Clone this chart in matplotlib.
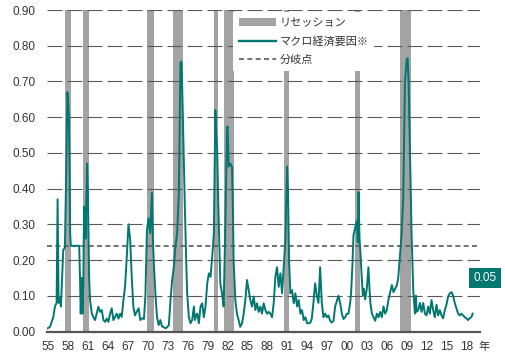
import matplotlib.pyplot as plt
from matplotlib.patches import Patch
from matplotlib.lines import Line2D

plt.rcParams['font.family'] = ['Liberation Sans', 'Noto Sans CJK JP', 'DejaVu Sans']

# data (decimal year, value)
years = [
    1954.8, 1955.25, 1955.75, 1956.0, 1956.25, 1956.4, 1956.55, 1956.75, 1956.9, 1957.05,
    1957.25, 1957.5, 1957.7, 1957.87, 1957.97, 1958.1, 1958.2, 1958.3, 1958.4, 1959.65,
    1959.78, 1959.88, 1960.03, 1960.15, 1960.28, 1960.38, 1960.5, 1960.62, 1960.72, 1960.85,
    1960.95, 1961.05, 1961.15, 1961.29, 1961.54, 1961.79, 1962.04, 1962.29, 1962.54, 1962.8,
    1963.05, 1963.3, 1963.55, 1963.8, 1964.05, 1964.3, 1964.55, 1964.8, 1965.06, 1965.31,
    1965.56, 1965.81, 1966.06, 1966.31, 1966.56, 1966.82, 1967.07, 1967.32, 1967.57, 1967.8,
    1968.05, 1968.3, 1968.6, 1968.85, 1969.1, 1969.4, 1969.62, 1969.85, 1970.1, 1970.35,
    1970.6, 1970.75, 1970.92, 1971.12, 1971.37, 1971.62, 1971.87, 1972.12, 1972.4, 1972.65,
    1972.9, 1973.15, 1973.4, 1973.65, 1973.9, 1974.15, 1974.4, 1974.66, 1974.9, 1975.05,
    1975.15, 1975.26, 1975.4, 1975.56, 1975.76, 1975.91, 1976.16, 1976.41, 1976.66, 1976.92,
    1977.07, 1977.25, 1977.42, 1977.67, 1977.92, 1978.17, 1978.42, 1978.67, 1978.93, 1979.18,
    1979.43, 1979.68, 1979.93, 1980.15, 1980.3, 1980.43, 1980.58, 1980.75, 1980.9, 1981.15,
    1981.4, 1981.65, 1981.9, 1982.0, 1982.16, 1982.41, 1982.66, 1982.8, 1982.9, 1983.16,
    1983.4, 1983.66, 1983.9, 1984.17, 1984.42, 1984.67, 1984.92, 1985.17, 1985.42, 1985.67,
    1985.93, 1986.18, 1986.43, 1986.68, 1986.93, 1987.18, 1987.43, 1987.68, 1987.94, 1988.19,
    1988.44, 1988.69, 1988.94, 1989.19, 1989.44, 1989.69, 1989.95, 1990.2, 1990.45, 1990.7,
    1990.95, 1991.1, 1991.25, 1991.45, 1991.7, 1991.96, 1992.2, 1992.46, 1992.7, 1992.96,
    1993.2, 1993.46, 1993.71, 1993.97, 1994.2, 1994.47, 1994.67, 1994.92, 1995.17, 1995.43,
    1995.68, 1995.93, 1996.18, 1996.43, 1996.68, 1996.93, 1997.18, 1997.44, 1997.69, 1997.94,
    1998.19, 1998.44, 1998.69, 1998.94, 1999.2, 1999.45, 1999.7, 1999.95, 2000.2, 2000.45,
    2000.6, 2000.8, 2000.95, 2001.2, 2001.46, 2001.6, 2001.71, 2001.86, 2002.0, 2002.2,
    2002.36, 2002.5, 2002.7, 2002.96, 2003.2, 2003.36, 2003.5, 2003.72, 2003.97, 2004.22,
    2004.47, 2004.72, 2004.97, 2005.22, 2005.47, 2005.72, 2005.97, 2006.23, 2006.48, 2006.73,
    2006.98, 2007.24, 2007.49, 2007.69, 2007.94, 2008.19, 2008.45, 2008.7, 2008.95, 2009.1,
    2009.25, 2009.45, 2009.7, 2009.95, 2010.2, 2010.35, 2010.45, 2010.7, 2010.95, 2011.2,
    2011.45, 2011.7, 2011.95, 2012.2, 2012.45, 2012.7, 2012.95, 2013.2, 2013.45, 2013.7,
    2013.95, 2014.2, 2014.45, 2014.7, 2014.95, 2015.2, 2015.45, 2015.73, 2015.95, 2016.2,
    2016.45, 2016.7, 2016.95, 2017.2, 2017.45, 2017.7, 2017.95, 2018.2, 2018.45, 2018.7,
    2018.9,
]
macro = [
    0.008, 0.013, 0.04, 0.07, 0.08, 0.37, 0.08, 0.093, 0.07, 0.14,
    0.228, 0.235, 0.45, 0.67, 0.65, 0.60, 0.46, 0.27, 0.24, 0.24,
    0.144, 0.05, 0.15, 0.05, 0.14, 0.35, 0.33, 0.26, 0.36, 0.47,
    0.40, 0.28, 0.15, 0.088, 0.051, 0.04, 0.032, 0.05, 0.069, 0.055,
    0.06, 0.032, 0.027, 0.036, 0.027, 0.05, 0.065, 0.032, 0.041, 0.05,
    0.036, 0.05, 0.041, 0.088, 0.126, 0.21, 0.30, 0.26, 0.15, 0.07,
    0.045, 0.055, 0.065, 0.032, 0.037, 0.035, 0.10, 0.284, 0.317, 0.275,
    0.389, 0.256, 0.18, 0.107, 0.04, 0.018, 0.032, 0.014, 0.012, 0.009,
    0.012, 0.018, 0.088, 0.144, 0.18, 0.24, 0.275, 0.387, 0.751, 0.756,
    0.695, 0.60, 0.48, 0.35, 0.20, 0.107, 0.04, 0.023, 0.032, 0.07,
    0.032, 0.045, 0.05, 0.023, 0.07, 0.079, 0.04, 0.07, 0.135, 0.163,
    0.153, 0.209, 0.275, 0.62, 0.55, 0.508, 0.368, 0.25, 0.135, 0.107,
    0.07, 0.29, 0.569, 0.574, 0.462, 0.47, 0.46, 0.34, 0.20, 0.088,
    0.05, 0.032, 0.013, 0.023, 0.05, 0.088, 0.144, 0.116, 0.088, 0.07,
    0.098, 0.06, 0.079, 0.055, 0.07, 0.05, 0.079, 0.06, 0.05, 0.055,
    0.05, 0.04, 0.079, 0.153, 0.18, 0.125, 0.163, 0.107, 0.18, 0.256,
    0.462, 0.387, 0.20, 0.107, 0.116, 0.079, 0.107, 0.07, 0.088, 0.05,
    0.06, 0.032, 0.04, 0.023, 0.023, 0.025, 0.036, 0.08, 0.135, 0.10,
    0.08, 0.18, 0.08, 0.04, 0.05, 0.04, 0.045, 0.03, 0.025, 0.03,
    0.07, 0.085, 0.10, 0.08, 0.05, 0.035, 0.04, 0.05, 0.05, 0.08,
    0.11, 0.19, 0.27, 0.29, 0.31, 0.25, 0.39, 0.26, 0.22, 0.15,
    0.10, 0.12, 0.09, 0.12, 0.18, 0.12, 0.08, 0.05, 0.04, 0.03,
    0.05, 0.04, 0.055, 0.04, 0.07, 0.05, 0.06, 0.09, 0.11, 0.13,
    0.11, 0.12, 0.13, 0.15, 0.21, 0.27, 0.38, 0.695, 0.76, 0.765,
    0.70, 0.51, 0.27, 0.116, 0.05, 0.10, 0.055, 0.06, 0.08, 0.055,
    0.08, 0.05, 0.045, 0.07, 0.05, 0.088, 0.06, 0.04, 0.075, 0.045,
    0.06, 0.045, 0.037, 0.06, 0.075, 0.098, 0.107, 0.11, 0.10, 0.08,
    0.065, 0.05, 0.045, 0.05, 0.045, 0.04, 0.037, 0.032, 0.037, 0.04,
    0.05,
]

# US recessions (start, end) in decimal years
rec_start = [1957.58, 1960.25, 1969.92, 1973.83, 1980.0, 1981.5, 1990.5, 2001.17, 2007.92]
rec_end = [1958.33, 1961.08, 1970.83, 1975.17, 1980.5, 1982.83, 1991.17, 2001.83, 2009.5]

threshold = 0.24
y_ticks = [i / 10 for i in range(10)]
tick_years = list(range(1955, 2019, 3))
tick_labels = [f'{y % 100:02d}' for y in tick_years]

teal = '#00786F'
grey_bar = '#A3A3A3'
grid_col = '#5A5A5A'

fig = plt.figure(figsize=(5.06, 3.58), dpi=100)
ax = fig.add_axes([0.0923, 0.074, 0.8563, 0.898])

for s, e in zip(rec_start, rec_end):
    ax.axvspan(s, e + 1 / 12, color=grey_bar, lw=0, zorder=1)

# dashed horizontal grid, drawn over the recession bars
for yv in y_ticks[1:]:
    ax.axhline(yv, color=grid_col, lw=0.8, ls=(0, (13.5, 4.5)), zorder=1.5)

ax.axhline(threshold, color=grid_col, lw=1.2, ls=(0, (3, 2)), zorder=2)
ax.plot(years, macro, color=teal, lw=1.4, zorder=3)

ax.set_xlim(1954.76, 2020.0)
ax.set_ylim(0, 0.9)
ax.set_yticks(y_ticks)
ax.set_yticklabels([f'{v:.2f}' for v in y_ticks])
ax.set_xticks(tick_years)
ax.set_xticklabels(tick_labels)
ax.tick_params(axis='both', length=0, labelsize=8.5, colors='#333333')
ax.tick_params(axis='y', pad=8)
ax.tick_params(axis='x', pad=7)

for side in ['left', 'right', 'top']:
    ax.spines[side].set_visible(False)
ax.spines['bottom'].set_color('#555555')
ax.spines['bottom'].set_linewidth(1.6)
ax.spines['bottom'].set_zorder(4)

handles = [
    Patch(facecolor=grey_bar, edgecolor='none'),
    Line2D([], [], color=teal, lw=1.7),
    Line2D([], [], color=grid_col, lw=1.2, ls=(0, (3, 2))),
]
labels = ['リセッション', 'マクロ経済要因※', '分岐点']
leg = ax.legend(handles, labels, loc='upper left', bbox_to_anchor=(0.43, 0.994),
                borderaxespad=0, frameon=True, fancybox=False, framealpha=1,
                edgecolor='none', facecolor='white', fontsize=8,
                handlelength=3.4, handletextpad=0.3, labelspacing=0.75,
                borderpad=0.5)
leg.set_zorder(5)
for txt in leg.get_texts():
    txt.set_color('#333333')

ax.text(1.0115, 0.15, f'{macro[-1]:.2f}', transform=ax.get_yaxis_transform(),
        ha='center', va='center', color='white', fontsize=8.5, clip_on=False,
        bbox=dict(boxstyle='square,pad=0.35', fc=teal, ec='none'), zorder=6)

fig.text(0.956, 0.018, '年', fontsize=8, color='#333333', ha='center', va='bottom',
         family=['Noto Sans CJK JP', 'DejaVu Sans'])

fig.savefig('out.png', dpi=100)
